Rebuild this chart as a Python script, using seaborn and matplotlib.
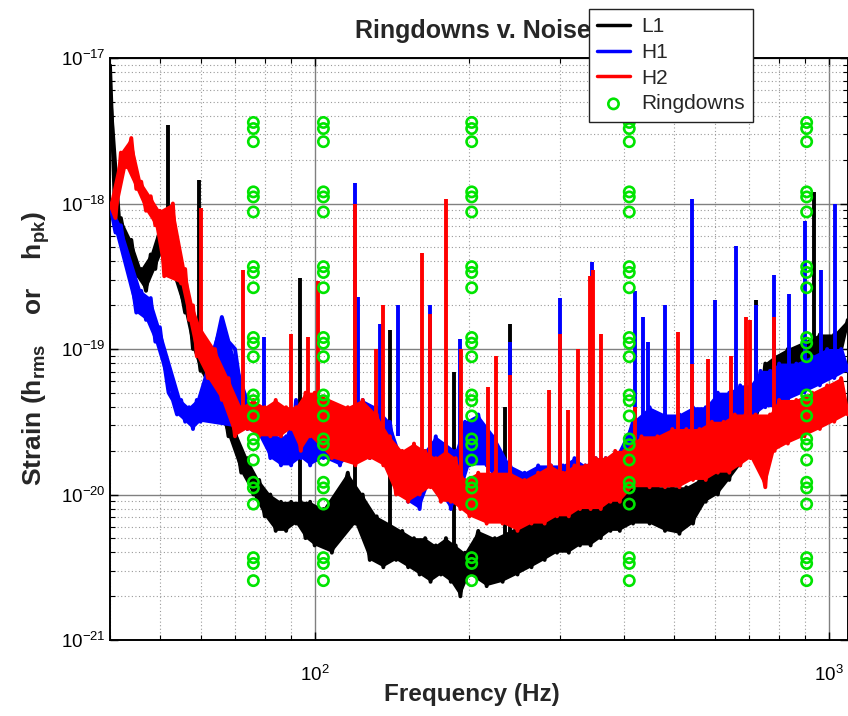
import numpy as np
import pandas as pd
import matplotlib
matplotlib.use("Agg")
import matplotlib.pyplot as plt
from matplotlib.ticker import NullFormatter, FixedLocator
import seaborn as sns

# ---------------- data ----------------
freq_hz = [40, 41, 42, 43, 44, 45, 46, 47, 48, 49, 50, 51, 52, 53, 54, 55, 56, 57, 58, 59, 60,
           62, 64, 66, 68, 70, 72, 74, 76, 78, 80, 82, 84, 86, 88, 90, 92, 94, 96, 98, 100,
           104, 108, 112, 116, 120, 124, 128, 132, 136, 140, 144, 148, 152, 156, 160, 164, 168,
           172, 176, 180, 184, 188, 192, 196, 200,
           208, 216, 224, 232, 240, 248, 256, 264, 272, 280, 288, 296, 304, 312, 320, 328, 336,
           344, 352, 360, 368, 376, 384, 392, 400,
           416, 432, 448, 464, 480, 496, 512, 528, 544, 560, 576, 592, 608, 624, 640, 656, 672,
           688, 704, 720, 736, 752, 768, 784, 800,
           832, 864, 896, 928, 960, 992, 1024, 1056, 1088]

# log10 of strain along the frequency list
L1_log = [-17.05, -18.15, -18.1, -18.3, -18.25, -18.5, -18.45, -18.6, -18.35, -18.45, -18.15,
          -18.3, -18.15, -18.45, -18.5, -18.6, -18.75, -18.7, -19.0, -18.95, -19.15,
          -19.05, -19.35, -19.3, -19.6, -19.55, -19.85, -19.75, -20.0, -19.9, -20.15, -20.0,
          -20.25, -20.05, -20.25, -20.05, -20.2, -20.05, -20.3, -20.05, -20.35,
          -20.1, -20.4, -20.1, -19.85, -20.2, -20.0, -20.45, -20.15, -20.5, -20.2, -20.45,
          -20.25, -20.5, -20.3, -20.55, -20.3, -20.6, -20.35, -20.55, -20.3, -20.6, -20.35,
          -20.7, -20.4, -20.55,
          -20.25, -20.63, -20.3, -20.6, -20.25, -20.55, -20.2, -20.5, -20.15, -20.45, -20.1,
          -20.4, -20.05, -20.4, -20.05, -20.35, -20.0, -20.35, -20.0, -20.3, -19.95, -20.25,
          -19.95, -20.25, -19.9,
          -20.2, -19.9, -20.2, -19.95, -20.25, -19.95, -20.27, -19.95, -20.2, -19.9, -20.05,
          -19.8, -20.0, -19.75, -19.9, -19.55, -19.8, -19.45, -19.65, -19.3, -19.4, -19.1,
          -19.35, -19.05, -19.2,
          -19.0, -19.15, -18.95, -19.1, -18.9, -19.05, -18.9, -19.0, -18.8]

H1_log = [-18.0, -18.2, -18.15, -18.4, -18.5, -18.75, -18.6, -18.8, -18.65, -18.95, -18.85,
          -19.1, -19.3, -19.35, -19.45, -19.35, -19.5, -19.4, -19.55, -19.35, -19.5,
          -19.3, -19.0, -18.78, -18.95, -19.0, -19.3, -19.55, -19.45, -19.6, -19.45, -19.75,
          -19.6, -19.8, -19.6, -19.8, -19.35, -19.75, -19.55, -19.8, -19.6,
          -19.75, -19.5, -19.8, -19.45, -19.7, -19.35, -19.75, -19.4, -19.7, -19.5, -19.8,
          -19.75, -20.05, -19.8, -20.1, -19.7, -19.9, -19.6, -20.0, -19.65, -20.1, -19.7,
          -20.0, -19.5, -19.8,
          -19.45, -19.8, -19.6, -20.0, -19.8, -20.1, -19.85, -20.05, -19.8, -20.05, -19.8,
          -20.05, -19.8, -20.0, -19.75, -20.05, -19.8, -20.0, -19.75, -20.0, -19.75, -19.95,
          -19.75, -19.95, -19.7,
          -19.5, -19.75, -19.4, -19.7, -19.45, -19.75, -19.45, -19.7, -19.4, -19.65, -19.4,
          -19.6, -19.3, -19.55, -19.3, -19.5, -19.25, -19.5, -19.25, -19.45, -19.15, -19.4,
          -19.15, -19.4, -19.1,
          -19.35, -19.1, -19.3, -19.05, -19.25, -19.0, -19.2, -19.0, -19.15]

H2_log = [-18.0, -18.1, -17.65, -17.75, -17.55, -17.9, -17.85, -18.05, -17.95, -18.15, -18.05,
          -18.5, -18.3, -18.0, -18.45, -18.55, -18.45, -18.8, -18.7, -19.05, -18.85,
          -19.2, -19.0, -19.35, -19.2, -19.6, -19.4, -19.55, -19.35, -19.6, -19.4, -19.6,
          -19.35, -19.6, -19.4, -19.55, -19.4, -19.7, -19.3, -19.6, -19.3,
          -19.45, -19.75, -19.65, -19.4, -19.8, -19.35, -19.75, -19.45, -19.8, -19.6, -20.0,
          -19.7, -20.05, -19.65, -20.0, -19.7, -19.95, -19.75, -20.05, -19.7, -20.05, -19.75,
          -20.1, -19.9, -20.15,
          -19.85, -20.2, -19.85, -20.2, -19.85, -20.25, -19.9, -20.2, -19.85, -20.2, -19.8,
          -20.15, -19.85, -20.15, -19.8, -20.1, -19.8, -20.1, -19.75, -20.1, -19.75, -20.05,
          -19.7, -20.05, -19.7,
          -19.95, -19.6, -19.95, -19.6, -19.95, -19.55, -19.95, -19.55, -19.9, -19.55, -19.9,
          -19.5, -19.85, -19.5, -19.85, -19.45, -19.8, -19.45, -19.75, -19.45, -19.75, -19.95,
          -19.45, -19.7, -19.35,
          -19.65, -19.35, -19.6, -19.3, -19.55, -19.25, -19.5, -19.2, -19.45]

# narrow spectral lines: frequency, log10 base, log10 top
L1_line_f = [51.9, 59.7, 93.5, 119.6, 140, 186.5, 234, 239.5, 722, 935]
L1_line_lo = [-18.3, -19.0, -20.1, -20.1, -20.3, -20.4, -20.4, -20.3, -19.5, -19.0]
L1_line_hi = [-17.46, -17.84, -18.51, -19.4, -18.87, -19.16, -19.4, -18.83, -18.66, -17.92]

H1_line_f = [79.7, 119.6, 121.4, 133.8, 145.2, 167.3, 191.3, 239.5, 299.6, 345.5, 420, 435,
             444, 479, 541, 600, 659, 722, 781, 838, 900, 967, 1028]
H1_line_lo = [-19.5, -19.5, -19.5, -19.6, -19.6, -19.8, -19.8, -19.9, -19.9, -19.9, -19.6,
              -19.6, -19.6, -19.6, -19.55, -19.45, -19.4, -19.35, -19.3, -19.25, -19.2, -19.15,
              -19.1]
H1_line_hi = [-18.92, -17.86, -18.64, -18.83, -18.7, -18.7, -18.93, -18.95, -18.65, -18.4,
              -18.6, -18.78, -18.95, -18.7, -17.97, -18.66, -18.29, -18.7, -18.49, -18.62,
              -18.12, -18.46, -18.0]

H2_line_f = [60, 72.5, 90, 97, 101.5, 119.6, 131.4, 135.8, 162, 167.3, 180, 192.8, 217, 225.5,
             239.5, 286, 299.6, 311, 324.5, 343, 348, 360, 420, 509, 541, 583, 646, 690, 702,
             781]
H2_line_lo = [-19.0, -19.5, -19.5, -19.4, -19.4, -19.6, -19.6, -19.7, -19.9, -19.9, -19.9,
              -19.9, -20.0, -20.0, -20.0, -20.0, -20.0, -20.0, -20.0, -20.0, -20.0, -19.9,
              -19.8, -19.8, -19.8, -19.8, -19.7, -19.7, -19.7, -19.6]
H2_line_hi = [-18.03, -18.46, -18.9, -18.92, -18.53, -18.0, -19.0, -18.7, -18.34, -18.76,
              -17.97, -19.0, -19.26, -19.05, -19.18, -19.28, -18.9, -19.42, -19.0, -18.5,
              -18.46, -18.9, -19.4, -18.88, -19.1, -19.07, -19.05, -18.78, -18.8, -18.78]

ringdown_freq = [76, 104, 202, 409, 905]
ringdown_log = [-17.443, -17.485, -17.575, -17.92, -17.955, -18.058, -18.434, -18.474,
                -18.579, -18.921, -18.96, -19.053, -19.316, -19.355, -19.46, -19.618, -19.658,
                -19.763, -19.916, -19.955, -20.066, -20.434, -20.474, -20.592]

series_names = ["L1", "H1", "H2"]
series_colors = ["#000000", "#0000ff", "#ff0000"]
x_major = [100, 1000]
y_major = [1e-21, 1e-20, 1e-19, 1e-18, 1e-17]

# ---------------- styling ----------------
sns.set_style("ticks")
plt.rcParams["font.family"] = ["Liberation Sans", "DejaVu Sans"]
plt.rcParams["mathtext.fontset"] = "custom"
plt.rcParams["mathtext.rm"] = "Liberation Sans"
plt.rcParams["mathtext.bf"] = "Liberation Sans:bold"
plt.rcParams["mathtext.it"] = "Liberation Sans:italic"

W, H = 848, 716
fig = plt.figure(figsize=(W / 100, H / 100), dpi=100)
ax = fig.add_axes([110 / W, 1 - 640 / H, (W - 110) / W, (640 - 58) / H])
ax.set_xscale("log")
ax.set_yscale("log")


def band_polygon(freq, vals):
    """Polygon through the curve's own local maxima (top) and minima (bottom)."""
    f = np.asarray(freq, dtype=float)
    v = np.asarray(vals, dtype=float)
    top, bot = [0], [0]
    for k in range(1, len(v) - 1):
        if v[k] >= v[k - 1] and v[k] >= v[k + 1]:
            top.append(k)
        if v[k] <= v[k - 1] and v[k] <= v[k + 1]:
            bot.append(k)
    top.append(len(v) - 1)
    bot.append(len(v) - 1)
    px = np.concatenate([f[top], f[bot][::-1]])
    py = 10.0 ** np.concatenate([v[top], v[bot][::-1]])
    return px, py


curves = [
    (L1_log, L1_line_f, L1_line_lo, L1_line_hi),
    (H1_log, H1_line_f, H1_line_lo, H1_line_hi),
    (H2_log, H2_line_f, H2_line_lo, H2_line_hi),
]
for i, (name, color, (vals, lf, llo, lhi)) in enumerate(zip(series_names, series_colors, curves)):
    df = pd.DataFrame({"f": freq_hz, "s": 10.0 ** np.array(vals)})
    px, py = band_polygon(freq_hz, vals)
    ax.fill(px, py, color=color, lw=0, zorder=3 + i)
    sns.lineplot(data=df, x="f", y="s", color=color, lw=2.8, estimator=None, sort=False,
                 ax=ax, label=name, zorder=3 + i)
    ax.vlines(lf, 10.0 ** np.array(llo), 10.0 ** np.array(lhi), color=color, lw=2.8,
              zorder=3 + i)

rd = pd.DataFrame([(f, 10.0 ** e) for f in ringdown_freq for e in ringdown_log],
                  columns=["f", "s"])
green = "#00e400"
sns.scatterplot(data=rd, x="f", y="s", marker="o", s=55, facecolors="none",
                edgecolors=green, linewidths=1.9, ax=ax, label="Ringdowns", zorder=8)

ax.set_xlim(40, 1089)
ax.set_ylim(1e-21, 1e-17)
ax.xaxis.set_major_locator(FixedLocator(x_major))
ax.yaxis.set_major_locator(FixedLocator(y_major))
ax.set_axisbelow(True)
ax.grid(which="major", color="#808080", lw=1.0, ls="-")
ax.grid(which="minor", color="#9a9a9a", lw=0.8, ls=(0, (1, 2.2)))
ax.xaxis.set_minor_formatter(NullFormatter())
ax.yaxis.set_minor_formatter(NullFormatter())
ax.tick_params(which="both", direction="in", top=True, right=True, colors="black")
ax.tick_params(which="major", length=6, width=1.0, labelsize=13.5)
ax.tick_params(which="minor", length=3.5, width=0.8)
ax.tick_params(axis="x", which="major", pad=18)
ax.tick_params(axis="y", which="major", pad=3)
for sp in ax.spines.values():
    sp.set_visible(True)
    sp.set_color("black")
    sp.set_linewidth(1.4)

ax.set_xlabel("Frequency (Hz)", fontsize=17.5, fontweight="bold")
ax.xaxis.set_label_coords((472 - 110) / (W - 110), -(683 - 640) / 582)
ax.set_ylabel(r"Strain (h$_{\mathbf{rms}}$    or    h$_{\mathbf{pk}}$)", fontsize=19,
              fontweight="bold")
ax.yaxis.set_label_coords((52 - 110) / (W - 110), 0.5)

fig.text(355 / W, 1 - 31 / H, "Ringdowns v. Noise", ha="left", va="center", fontsize=18,
         fontweight="bold")

handles, labels = ax.get_legend_handles_labels()
if ax.get_legend() is not None:
    ax.get_legend().remove()
leg = fig.legend(handles, labels, loc="upper left", bbox_to_anchor=(589 / W, 1 - 9 / H),
                 fontsize=15, frameon=True, fancybox=False, framealpha=1, edgecolor="#222222",
                 labelspacing=0.32, handlelength=1.55, handletextpad=0.55, borderpad=0.4,
                 borderaxespad=0)
leg.get_frame().set_linewidth(1.0)
for lh in leg.get_lines():
    lh.set_linewidth(2.5)
leg.set_zorder(20)

fig.savefig("out.png", dpi=100)
